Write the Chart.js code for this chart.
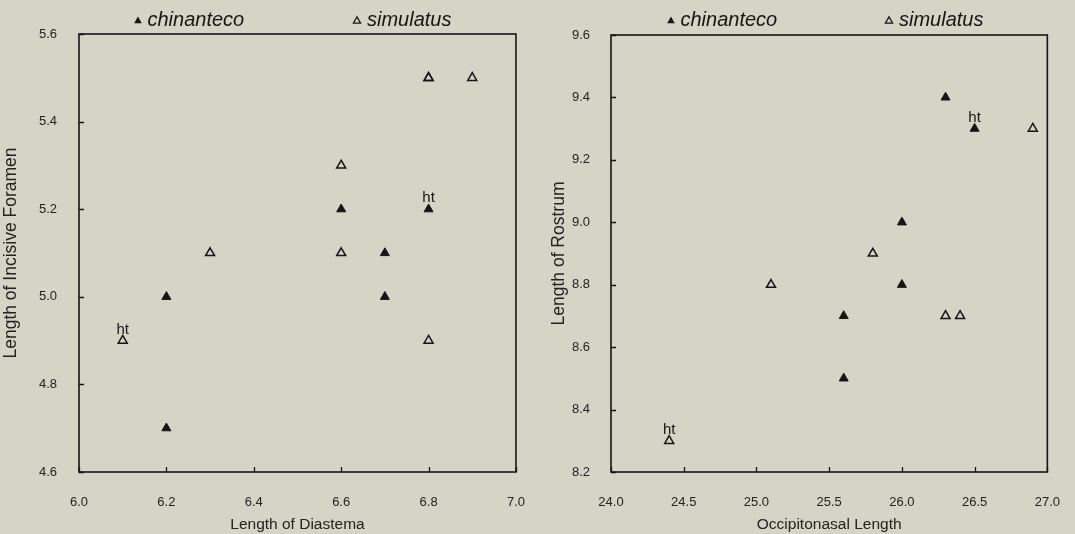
<!DOCTYPE html>
<html>
<head>
<meta charset="utf-8">
<script src="https://cdn.jsdelivr.net/npm/chart.js@4.4.1/dist/chart.umd.min.js"></script>
<style>
  body { margin: 0; background: #d5d4c5; }
  #wrap { position: relative; width: 1075px; height: 534px; }
  canvas { position: absolute; top: 0; }
</style>
</head>
<body>
<div id="wrap">
  <canvas id="diastema" width="540" height="534" style="left:0"></canvas>
  <canvas id="rostrum" width="535" height="534" style="left:540px"></canvas>
</div>
<script>
// left panel: incisive foramen vs diastema
const diaChinX = [6.2, 6.2, 6.6, 6.7, 6.7, 6.8];
const diaChinY = [4.7, 5.0, 5.2, 5.1, 5.0, 5.2];
const diaSimX = [6.1, 6.3, 6.6, 6.6, 6.8, 6.8, 6.9, 6.8];
const diaSimY = [4.9, 5.1, 5.3, 5.1, 5.5, 5.5, 5.5, 4.9];
const diaXTicks = [6.0, 6.2, 6.4, 6.6, 6.8, 7.0];
const diaYTicks = [4.6, 4.8, 5.0, 5.2, 5.4, 5.6];
// "ht" marks: [x, y]
const diaHt = [[6.1, 4.9], [6.8, 5.2]];

// right panel: rostrum vs occipitonasal
const rosChinX = [25.6, 25.6, 26.0, 26.0, 26.3, 26.5];
const rosChinY = [8.5, 8.7, 8.8, 9.0, 9.4, 9.3];
const rosSimX = [24.4, 25.1, 25.8, 26.3, 26.4, 26.9];
const rosSimY = [8.3, 8.8, 8.9, 8.7, 8.7, 9.3];
const rosXTicks = [24.0, 24.5, 25.0, 25.5, 26.0, 26.5, 27.0];
const rosYTicks = [8.2, 8.4, 8.6, 8.8, 9.0, 9.2, 9.4, 9.6];
const rosHt = [[24.4, 8.3], [26.5, 9.3]];

const FONT = '"Liberation Sans", Arial, Helvetica, sans-serif';
const INK = '#151515';

function pts(xs, ys) {
  return xs.map((x, i) => ({x: x, y: ys[i]}));
}

function tri(ctx, x, y, r, filled) {
  ctx.beginPath();
  ctx.moveTo(x, y - r);
  ctx.lineTo(x + r * 0.866, y + r / 2);
  ctx.lineTo(x - r * 0.866, y + r / 2);
  ctx.closePath();
  if (filled) { ctx.fillStyle = INK; ctx.fill(); }
  else { ctx.lineWidth = 1.3; ctx.strokeStyle = INK; ctx.stroke(); }
}

// box round the plot, inward ticks, the two legend entries and the "ht" tags
const decor = {
  id: 'decor',
  afterDraw(chart, args, opts) {
    const ctx = chart.ctx;
    const a = chart.chartArea;
    const xs = chart.scales.x, ys = chart.scales.y;
    ctx.save();
    ctx.lineWidth = 1.6;
    ctx.strokeStyle = INK;
    ctx.strokeRect(a.left, a.top, a.right - a.left, a.bottom - a.top);

    ctx.lineWidth = 1.3;
    ctx.beginPath();
    xs.ticks.forEach(t => {
      const px = Math.round(xs.getPixelForValue(t.value)) + 0.5;
      ctx.moveTo(px, a.bottom);
      ctx.lineTo(px, a.bottom - 5);
    });
    ys.ticks.forEach(t => {
      const py = Math.round(ys.getPixelForValue(t.value)) + 0.5;
      ctx.moveTo(a.left, py);
      ctx.lineTo(a.left + 5, py);
    });
    ctx.stroke();

    ctx.font = 'italic 20px ' + FONT;
    ctx.textBaseline = 'alphabetic';
    ctx.textAlign = 'left';
    tri(ctx, opts.legX[0], 21, 4.4, true);
    ctx.fillStyle = INK;
    ctx.fillText('chinanteco', opts.legX[0] + 9.5, 25.5);
    tri(ctx, opts.legX[1], 21, 4.1, false);
    ctx.fillStyle = INK;
    ctx.fillText('simulatus', opts.legX[1] + 10, 25.5);

    ctx.font = '15px ' + FONT;
    ctx.textAlign = 'center';
    opts.ht.forEach(p => {
      ctx.fillText('ht', xs.getPixelForValue(p[0]), ys.getPixelForValue(p[1]) - 7);
    });
    ctx.restore();
  }
};

function makeChart(id, cfg) {
  return new Chart(document.getElementById(id), {
    type: 'scatter',
    data: {
      datasets: [
        {
          label: 'chinanteco',
          data: pts(cfg.chinX, cfg.chinY),
          pointStyle: 'triangle',
          pointRadius: 5.2,
          pointHoverRadius: 5.2,
          backgroundColor: INK,
          borderColor: INK,
          borderWidth: 1,
          clip: false
        },
        {
          label: 'simulatus',
          data: pts(cfg.simX, cfg.simY),
          pointStyle: 'triangle',
          pointRadius: 5.2,
          pointHoverRadius: 5.2,
          backgroundColor: 'rgba(0,0,0,0)',
          borderColor: INK,
          borderWidth: 1.5,
          clip: false
        }
      ]
    },
    options: {
      responsive: false,
      animation: false,
      events: [],
      layout: { padding: cfg.pad },
      scales: {
        x: {
          type: 'linear',
          min: cfg.xTicks[0],
          max: cfg.xTicks[cfg.xTicks.length - 1],
          afterBuildTicks: s => { s.ticks = cfg.xTicks.map(v => ({value: v})); },
          afterFit: s => { s.height = 62; },
          border: { display: false },
          grid: { display: false },
          ticks: {
            padding: 15,
            color: '#222',
            font: { family: FONT, size: 13 },
            callback: v => Number(v).toFixed(1)
          },
          title: {
            display: true,
            text: cfg.xTitle,
            color: '#222',
            font: { family: FONT, size: 15.5 },
            padding: { top: 0, bottom: 0 }
          }
        },
        y: {
          type: 'linear',
          min: cfg.yTicks[0],
          max: cfg.yTicks[cfg.yTicks.length - 1],
          afterBuildTicks: s => { s.ticks = cfg.yTicks.map(v => ({value: v})); },
          afterFit: s => { s.width = cfg.yWidth; },
          border: { display: false },
          grid: { display: false },
          ticks: {
            padding: cfg.yTickPad,
            color: '#222',
            font: { family: FONT, size: 13 },
            callback: v => Number(v).toFixed(1)
          },
          title: {
            display: true,
            text: cfg.yTitle,
            color: '#222',
            font: { family: FONT, size: 17.5 },
            padding: { top: 1, bottom: 0 }
          }
        }
      },
      plugins: {
        legend: { display: false },
        tooltip: { enabled: false },
        decor: { legX: cfg.legX, ht: cfg.ht }
      }
    },
    plugins: [decor]
  });
}

makeChart('diastema', {
  chinX: diaChinX, chinY: diaChinY, simX: diaSimX, simY: diaSimY,
  xTicks: diaXTicks, yTicks: diaYTicks, ht: diaHt,
  xTitle: 'Length of Diastema', yTitle: 'Length of Incisive Foramen',
  pad: { left: 0, right: 22.5, top: 34, bottom: 0 },
  yWidth: 79, yTickPad: 14,
  legX: [138, 357]
});

makeChart('rostrum', {
  chinX: rosChinX, chinY: rosChinY, simX: rosSimX, simY: rosSimY,
  xTicks: rosXTicks, yTicks: rosYTicks, ht: rosHt,
  xTitle: 'Occipitonasal Length', yTitle: 'Length of Rostrum',
  pad: { left: 8, right: 23.5, top: 35, bottom: 0 },
  yWidth: 63, yTickPad: 13,
  legX: [131, 349]
});
</script>
</body>
</html>
